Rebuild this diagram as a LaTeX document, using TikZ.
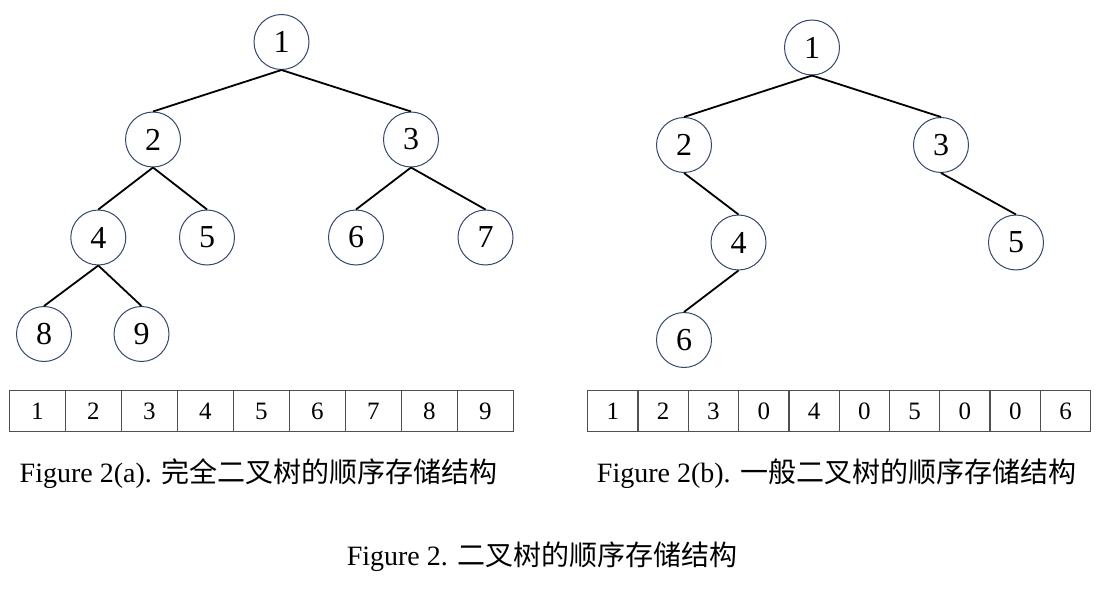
\documentclass[tikz,border=0pt]{standalone}
\usepackage{fontspec}
\setmainfont{Liberation Serif}
\newfontfamily\cjk{Noto Sans CJK SC}
\usepackage{tikz}
\usetikzlibrary{positioning}
\usepackage{xcolor}
\definecolor{ringblue}{RGB}{52,72,108}
\definecolor{cellgray}{RGB}{80,80,80}

\begin{document}
\begin{tikzpicture}[x=1pt, y=-1pt,
  knot/.style={draw=ringblue, line width=1pt, circle, minimum size=55pt,
               inner sep=0pt, font=\fontsize{32}{32}\selectfont},
  cellA/.style={draw=cellgray, line width=1.3pt, outer sep=0pt, inner sep=0pt,
                minimum width=56pt, minimum height=41pt,
                font=\fontsize{25}{25}\selectfont},
  cellB/.style={cellA, minimum width=50.3pt},
  link/.style={line width=1.8pt},
  caption/.style={anchor=base, font=\fontsize{28}{28}\selectfont},
  ]
  \useasboundingbox (0,0) rectangle (1101,591);

  % complete tree
  \node[knot] (a1) at (281.5,42) {1};
  \node[knot] (a2) at (153,139.5) {2};
  \node[knot] (a3) at (411,139.5) {3};
  \node[knot] (a4) at (98.3,237.5) {4};
  \node[knot] (a5) at (207,237.5) {5};
  \node[knot] (a6) at (356,237.5) {6};
  \node[knot] (a7) at (485.5,237.5) {7};
  \node[knot] (a8) at (44,334) {8};
  \node[knot] (a9) at (141.5,334) {9};

  \draw[link] (a1.south) -- (a2.north);
  \draw[link] (a1.south) -- (a3.north);
  \draw[link] (a2.south) -- (a4.north);
  \draw[link] (a2.south) -- (a5.north);
  \draw[link] (a3.south) -- (a6.north);
  \draw[link] (a3.south) -- (a7.north);
  \draw[link] (a4.south) -- (a8.north);
  \draw[link] (a4.south) -- (a9.north);

  % general tree
  \node[knot] (b1) at (812,47.5) {1};
  \node[knot] (b2) at (684,145) {2};
  \node[knot] (b3) at (941,145) {3};
  \node[knot] (b4) at (738.5,242.5) {4};
  \node[knot] (b5) at (1016,242.5) {5};
  \node[knot] (b6) at (684,340) {6};

  \draw[link] (b1.south) -- (b2.north);
  \draw[link] (b1.south) -- (b3.north);
  \draw[link] (b2.south) -- (b4.north);
  \draw[link] (b3.south) -- (b5.north);
  \draw[link] (b4.south) -- (b6.north);

  % arrays
  \node[cellA, anchor=north west] (p1) at (9.3,390.7) {1};
  \node[cellA, right=0pt of p1] (p2) {2};
  \node[cellA, right=0pt of p2] (p3) {3};
  \node[cellA, right=0pt of p3] (p4) {4};
  \node[cellA, right=0pt of p4] (p5) {5};
  \node[cellA, right=0pt of p5] (p6) {6};
  \node[cellA, right=0pt of p6] (p7) {7};
  \node[cellA, right=0pt of p7] (p8) {8};
  \node[cellA, right=0pt of p8] (p9) {9};

  \node[cellB, anchor=north west] (q1) at (587.7,390.7) {1};
  \node[cellB, right=0pt of q1] (q2) {2};
  \node[cellB, right=0pt of q2] (q3) {3};
  \node[cellB, right=0pt of q3] (q4) {0};
  \node[cellB, right=0pt of q4] (q5) {4};
  \node[cellB, right=0pt of q5] (q6) {0};
  \node[cellB, right=0pt of q6] (q7) {5};
  \node[cellB, right=0pt of q7] (q8) {0};
  \node[cellB, right=0pt of q8] (q9) {0};
  \node[cellB, right=0pt of q9] (q10) {6};

  % captions
  \node[caption] (capa) at (258.5,482) {Figure 2(a). {\cjk 完全二叉树的顺序存储结构}};
  \node[caption] (capb) at (836.5,482) {Figure 2(b). {\cjk 一般二叉树的顺序存储结构}};
  \node[caption] (capm) at (542,565) {Figure 2. {\cjk 二叉树的顺序存储结构}};
\end{tikzpicture}
\end{document}
